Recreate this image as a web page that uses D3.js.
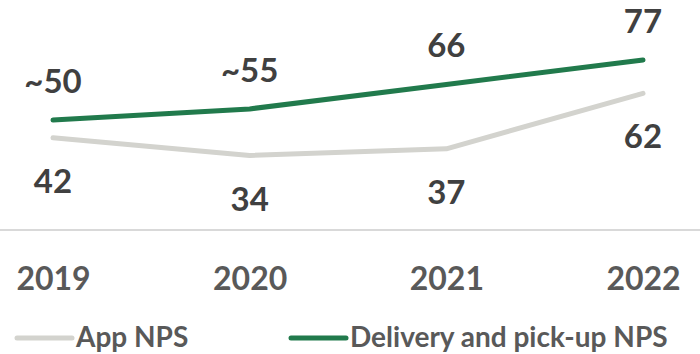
<!DOCTYPE html>
<html>
<head>
<meta charset="utf-8">
<script src="https://cdn.jsdelivr.net/npm/d3@7"></script>
<style>
  html, body { margin: 0; padding: 0; background: #ffffff; }
  svg { display: block; }
  text { font-family: Lato, "Open Sans", "Liberation Sans", sans-serif; font-weight: 700; }
</style>
</head>
<body>
<svg id="chart" width="700" height="354"></svg>
<script>
// Years along the x axis
const years = ["2019", "2020", "2021", "2022"];

// Net Promoter Score series
const appNps = [42, 34, 37, 62];
const deliveryNps = [50, 55, 66, 77];

// Printed labels (early delivery figures are approximate)
const appLabels = ["42", "34", "37", "62"];
const deliveryLabels = ["~50", "~55", "66", "77"];

const seriesNames = ["App NPS", "Delivery and pick-up NPS"];

const W = 700, H = 354;
const svg = d3.select("#chart");

const x = d3.scalePoint().domain(years).range([53, 643]);
const y = d3.scaleLinear().domain([0, 100]).range([231, 9]);

const GREEN = "#217a4c";
const GREY_LINE = "#d3d3ce";
const LABEL = "#404040";
const AXIS_TEXT = "#595959";

// Baseline rule
svg.append("line")
  .attr("x1", 0).attr("x2", W)
  .attr("y1", y(0) - 1).attr("y2", y(0) - 1)
  .attr("stroke", "#d9d9d9").attr("stroke-width", 2);

// Year labels via a bottom axis without domain/ticks
const xAxis = svg.append("g")
  .attr("transform", `translate(0, ${y(0)})`)
  .call(d3.axisBottom(x).tickSize(0).tickPadding(0));
xAxis.select(".domain").remove();
xAxis.selectAll("text")
  .attr("y", 59).attr("dy", 0)
  .attr("fill", AXIS_TEXT)
  .style("font-size", "32px")
  .style("font-family", "Lato, 'Open Sans', sans-serif")
  .style("font-weight", 700);

const line = d3.line()
  .x((d, i) => x(years[i]))
  .y(d => y(d));

svg.append("path")
  .datum(appNps)
  .attr("d", line)
  .attr("fill", "none")
  .attr("stroke", GREY_LINE)
  .attr("stroke-width", 5)
  .attr("stroke-linecap", "round")
  .attr("stroke-linejoin", "round");

svg.append("path")
  .datum(deliveryNps)
  .attr("d", line)
  .attr("fill", "none")
  .attr("stroke", GREEN)
  .attr("stroke-width", 5)
  .attr("stroke-linecap", "round")
  .attr("stroke-linejoin", "round");

// Value labels: delivery above the line, app below it
svg.append("g").selectAll("text")
  .data(deliveryNps)
  .join("text")
  .attr("x", (d, i) => x(years[i]))
  .attr("y", d => y(d) - 27)
  .attr("text-anchor", "middle")
  .attr("fill", LABEL)
  .style("font-size", "33px")
  .text((d, i) => deliveryLabels[i]);

svg.append("g").selectAll("text")
  .data(appNps)
  .join("text")
  .attr("x", (d, i) => x(years[i]))
  .attr("y", d => y(d) + 55)
  .attr("text-anchor", "middle")
  .attr("fill", LABEL)
  .style("font-size", "33px")
  .text((d, i) => appLabels[i]);

// Legend
const legendItems = [
  { name: seriesNames[0], color: GREY_LINE, x0: 17 },
  { name: seriesNames[1], color: GREEN, x0: 291 }
];
const legend = svg.append("g");
const li = legend.selectAll("g").data(legendItems).join("g")
  .attr("transform", d => `translate(${d.x0}, 338)`);
li.append("line")
  .attr("x1", 0).attr("x2", 55)
  .attr("y1", 0).attr("y2", 0)
  .attr("stroke", d => d.color)
  .attr("stroke-width", 5)
  .attr("stroke-linecap", "round");
li.append("text")
  .attr("x", 59)
  .attr("y", 9)
  .attr("fill", AXIS_TEXT)
  .style("font-size", "28px")
  .text(d => d.name);
</script>
</body>
</html>
